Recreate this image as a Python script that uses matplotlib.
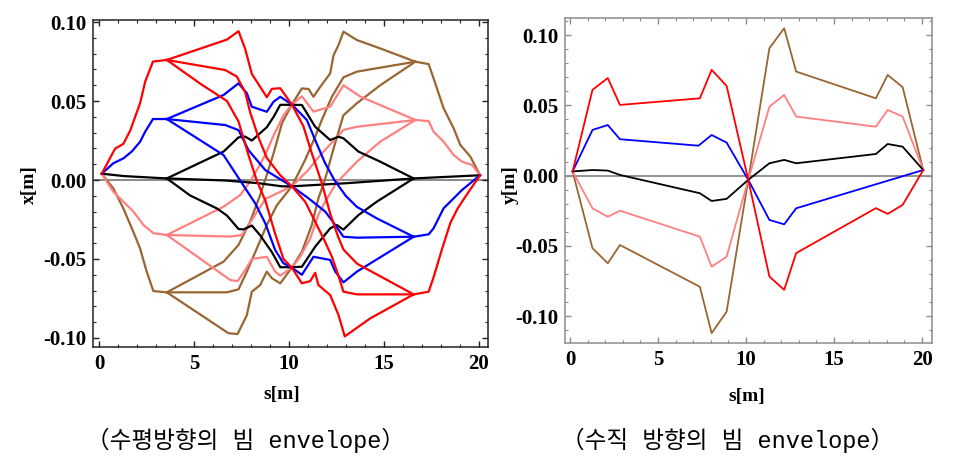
import numpy as np
import matplotlib
matplotlib.use("Agg")
import matplotlib.pyplot as plt
from matplotlib.ticker import MultipleLocator, FormatStrFormatter

# ---- horizontal envelope (left), points are (s [m], x [m]) ----
# each colour: common start, 3 branches up to s~10.16, 3 branches after, common end
red_in = [(0.14, 0.004), (0.84, 0.0198), (1.28, 0.0229), (1.64, 0.0313), (2.16, 0.0486),
          (2.43, 0.0623), (2.84, 0.075), (3.57, 0.076)]
red_left = [
    [(3.57, 0.076), (6.74, 0.0889), (7.35, 0.0942), (7.70, 0.083), (8.05, 0.0672), (8.84, 0.0524),
     (9.11, 0.0577), (9.55, 0.0581), (10.16, 0.0478)],
    [(3.57, 0.076), (6.65, 0.0696), (7.26, 0.0655), (7.70, 0.0556), (7.96, 0.043), (8.4, 0.027),
     (8.84, 0.014), (9.55, 0.003), (10.16, -0.004)],
    [(3.57, 0.076), (5.33, 0.061), (6.74, 0.050), (7.35, 0.037), (7.87, 0.016), (8.3, 0.0),
     (8.76, -0.013), (9.28, -0.034), (9.72, -0.050), (10.16, -0.0555)],
]
red_right = [
    [(10.16, 0.0478), (10.77, 0.034), (11.21, 0.017), (11.74, -0.002), (12.2, -0.022), (12.6, -0.036),
     (12.88, -0.044), (13.6, -0.053), (16.58, -0.0724)],
    [(10.16, -0.004), (10.86, -0.0137), (11.39, -0.0264), (11.83, -0.037), (12.27, -0.0485),
     (12.6, -0.060), (12.88, -0.0707), (13.59, -0.0724), (16.58, -0.0724)],
    [(10.16, -0.0555), (10.69, -0.0654), (11.13, -0.064), (11.39, -0.0587), (11.56, -0.0665),
     (12.18, -0.0728), (12.62, -0.0855), (12.95, -0.099), (14.29, -0.0876), (16.58, -0.0724)],
]
red_out = [(16.58, -0.0724), (17.37, -0.0707), (17.62, -0.062), (18.07, -0.044), (18.52, -0.027),
           (18.9, -0.018), (19.45, -0.008), (20.08, 0.003)]

blue_in = [(0.14, 0.004), (0.75, 0.0106), (1.28, 0.0137), (1.72, 0.018), (2.16, 0.0242),
           (2.43, 0.0306), (2.84, 0.0386), (3.57, 0.0386)]
blue_left = [
    [(3.57, 0.0386), (6.56, 0.0538), (7.35, 0.0612), (7.79, 0.0549), (8.05, 0.0464), (8.84, 0.0432),
     (9.2, 0.0496), (9.55, 0.0527), (10.16, 0.0478)],
    [(3.57, 0.0386), (6.65, 0.0348), (7.35, 0.0316), (7.87, 0.019), (8.76, 0.0063), (10.16, -0.004)],
    [(3.57, 0.0386), (6.56, 0.0158), (7.53, -0.002), (8.23, -0.0148), (8.76, -0.0274), (9.28, -0.0443),
     (9.72, -0.0527), (10.16, -0.0555)],
]
blue_right = [
    [(10.16, 0.0478), (10.95, 0.038), (11.39, 0.0253), (11.9, 0.011), (12.4, 0.0), (13.0, -0.010),
     (13.59, -0.017), (14.64, -0.0243), (16.58, -0.0359)],
    [(10.16, -0.004), (11.04, -0.0116), (11.92, -0.020), (12.3, -0.026), (12.88, -0.0359),
     (13.59, -0.0365), (16.58, -0.0359)],
    [(10.16, -0.0555), (10.69, -0.060), (11.3, -0.0486), (12.18, -0.0506), (12.45, -0.058),
     (12.88, -0.0648), (13.59, -0.058), (16.58, -0.0359)],
]
blue_out = [(16.58, -0.0359), (17.37, -0.0344), (17.63, -0.0306), (18.16, -0.0179), (18.69, -0.0116),
            (19.13, -0.0063), (20.08, 0.003)]

black_in = [(0.14, 0.004), (1.3, 0.0025), (3.57, 0.001)]
black_left = [
    [(3.57, 0.001), (6.56, 0.018), (7.35, 0.027), (7.70, 0.0275), (8.05, 0.025), (8.84, 0.0334),
     (9.2, 0.040), (9.55, 0.0476), (10.16, 0.0476)],
    [(3.57, 0.001), (6.65, -0.0003), (8.39, -0.002), (9.64, -0.004), (10.16, -0.004)],
    [(3.57, 0.001), (4.80, -0.0098), (6.21, -0.018), (6.74, -0.0225), (7.35, -0.031), (7.61, -0.0313),
     (8.05, -0.0288), (8.49, -0.035), (9.11, -0.0457), (9.55, -0.0552), (10.16, -0.0552)],
]
black_right = [
    [(10.16, 0.0476), (10.69, 0.0475), (11.39, 0.0337), (12.18, 0.0253), (12.62, 0.0274),
     (12.88, 0.0264), (13.67, 0.018), (14.82, 0.0116), (16.58, 0.001)],
    [(10.16, -0.004), (13.07, -0.002), (16.58, 0.001)],
    [(10.16, -0.0552), (10.69, -0.0549), (11.39, -0.0422), (12.18, -0.0306), (12.53, -0.0285),
     (12.88, -0.0314), (13.67, -0.0222), (14.64, -0.0137), (16.58, 0.001)],
]
black_out = [(16.58, 0.001), (20.08, 0.003)]

pink_in = [(0.14, 0.004), (0.75, -0.0074), (1.28, -0.0137), (1.81, -0.020), (2.34, -0.0285),
           (2.87, -0.0337), (3.57, -0.0348)]
pink_left = [
    [(3.57, -0.0348), (6.56, -0.0169), (7.44, -0.0095), (7.9, -0.002), (8.4, 0.008), (8.76, 0.016),
     (9.19, 0.028), (9.72, 0.041), (10.16, 0.0478)],
    [(3.57, -0.0348), (6.91, -0.0358), (7.53, -0.0348), (7.96, -0.027), (8.76, -0.012), (10.16, -0.004)],
    [(3.57, -0.0348), (6.91, -0.0633), (7.3, -0.064), (7.7, -0.057), (8.05, -0.050), (8.84, -0.0486),
     (9.28, -0.058), (9.55, -0.0605), (10.16, -0.0555)],
]
pink_right = [
    [(10.16, 0.0478), (10.69, 0.053), (11.3, 0.0433), (12.18, 0.0464), (12.88, 0.060), (13.77, 0.0528),
     (16.67, 0.038)],
    [(10.16, -0.004), (11.0, 0.006), (11.66, 0.0158), (12.3, 0.024), (12.88, 0.0317), (13.59, 0.0337),
     (16.67, 0.038)],
    [(10.16, -0.0555), (10.6, -0.0485), (11.13, -0.037), (11.56, -0.022), (11.92, -0.0137),
     (12.5, -0.002), (13.59, 0.0116), (14.82, 0.0243), (16.67, 0.038)],
]
pink_out = [(16.67, 0.038), (17.37, 0.0373), (17.63, 0.0306), (18.16, 0.0243), (18.69, 0.0158),
            (19.13, 0.0116), (19.66, 0.0095), (20.08, 0.003)]

brown_in = [(0.14, 0.004), (0.75, -0.0053), (1.28, -0.018), (1.81, -0.033), (2.16, -0.0433),
            (2.51, -0.058), (2.86, -0.0703), (3.57, -0.0711)]
brown_left = [
    [(3.57, -0.0711), (6.56, -0.0517), (7.35, -0.0411), (7.96, -0.0264), (8.49, -0.0095),
     (8.84, 0.0032), (9.2, 0.017), (9.64, 0.036), (10.16, 0.0478)],
    [(3.57, -0.0711), (6.74, -0.0711), (7.35, -0.0692), (7.79, -0.058), (8.32, -0.0432),
     (8.84, -0.0285), (9.37, -0.016), (10.16, -0.004)],
    [(3.57, -0.0711), (6.82, -0.097), (7.3, -0.0975), (7.79, -0.0855), (8.05, -0.0707), (8.49, -0.0665),
     (8.84, -0.058), (9.11, -0.0622), (9.55, -0.0654), (10.16, -0.0555)],
]
brown_right = [
    [(10.16, 0.0478), (10.69, 0.058), (11.04, 0.0576), (11.3, 0.0527), (11.66, 0.059), (12.18, 0.0675),
     (12.36, 0.079), (12.62, 0.0854), (12.88, 0.0939), (13.59, 0.0886), (14.82, 0.0833), (16.67, 0.0749)],
    [(10.16, -0.004), (10.86, 0.0127), (11.39, 0.0274), (11.74, 0.038), (12.27, 0.0527), (12.88, 0.065),
     (13.59, 0.0686), (16.67, 0.0749)],
    [(10.16, -0.0555), (10.69, -0.0454), (11.21, -0.0285), (11.56, -0.0116), (11.9, 0.0), (12.36, 0.020),
     (12.88, 0.041), (13.59, 0.0486), (14.82, 0.060), (16.67, 0.0749)],
]
brown_out = [(16.67, 0.0749), (17.37, 0.0734), (17.63, 0.0644), (18.16, 0.0454), (18.69, 0.0327),
             (19.04, 0.0222), (19.57, 0.0148), (20.08, 0.003)]

# ---- vertical envelope (right), one line per colour ----
v_s = [0.15, 1.28, 2.15, 2.84, 7.38, 8.05, 8.9, 10.13, 11.33, 12.17, 12.85, 17.38, 18.05, 18.9, 20.07]
v_red = [0.003, 0.061, 0.0694, 0.0503, 0.055, 0.0752, 0.0638, -0.003, -0.0717, -0.0812, -0.0551,
         -0.0231, -0.0272, -0.0208, 0.004]
v_black = [0.003, 0.004, 0.0036, 0.0005, -0.0125, -0.018, -0.0165, -0.003, 0.0088, 0.0112, 0.0088,
           0.0154, 0.0225, 0.0206, 0.004]
v_pink = [0.003, -0.0232, -0.0292, -0.0249, -0.0434, -0.0647, -0.0576, -0.003, 0.049, 0.0574, 0.042,
          0.0348, 0.0467, 0.042, 0.004]
v_brown = [0.003, -0.0516, -0.0623, -0.0493, -0.079, -0.112, -0.0967, -0.003, 0.0906, 0.1048, 0.074,
           0.055, 0.0716, 0.0629, 0.004]
v_s_blue = [0.15, 1.28, 2.15, 2.84, 7.3, 8.05, 8.9, 10.13, 11.33, 12.17, 12.85, 20.07]
v_blue = [0.003, 0.0325, 0.036, 0.0259, 0.0213, 0.0289, 0.0235, -0.003, -0.0315, -0.0346, -0.0232, 0.004]

RED = "#ff0000"
BLUE = "#0000ff"
BLACK = "#000000"
PINK = "#ff8080"
BROWN = "#996633"

serif = "Liberation Serif"
cap_font = ["Liberation Mono", "Noto Sans CJK KR", "DejaVu Sans"]

fig = plt.figure(figsize=(9.58, 4.66), dpi=100)
ax1 = fig.add_axes([0.0971, 0.2554, 0.4123, 0.7017])
ax2 = fig.add_axes([0.5898, 0.2639, 0.3831, 0.6975])


def draw(ax, pts, color, lw):
    a = np.array(pts)
    ax.plot(a[:, 0], a[:, 1], color=color, lw=lw, solid_joinstyle="round")


ax1.axhline(0, color="#808080", lw=1.3, zorder=1)
groups = [(brown_in, brown_left, brown_right, brown_out, BROWN),
          (pink_in, pink_left, pink_right, pink_out, PINK),
          (black_in, black_left, black_right, black_out, BLACK),
          (blue_in, blue_left, blue_right, blue_out, BLUE),
          (red_in, red_left, red_right, red_out, RED)]
for g_in, g_left, g_right, g_out, col in groups:
    draw(ax1, g_in, col, 1.6)
    for br in g_left + g_right:
        draw(ax1, br, col, 1.6)
    draw(ax1, g_out, col, 1.6)

ax2.axhline(0, color="#808080", lw=1.2, zorder=1)
ax2.plot(v_s, v_brown, color=BROWN, lw=1.3)
ax2.plot(v_s, v_pink, color=PINK, lw=1.3)
ax2.plot(v_s, v_black, color=BLACK, lw=1.3)
ax2.plot(v_s_blue, v_blue, color=BLUE, lw=1.3)
ax2.plot(v_s, v_red, color=RED, lw=1.3)

ax1.set_xlim(-0.32, 20.5)
ax1.set_ylim(-0.1057, 0.1013)
ax2.set_xlim(-0.28, 20.57)
ax2.set_ylim(-0.119, 0.1121)

for ax, fc in [(ax1, "#222222"), (ax2, "#8c8c8c")]:
    ax.xaxis.set_major_locator(MultipleLocator(5))
    ax.xaxis.set_minor_locator(MultipleLocator(1))
    ax.yaxis.set_major_locator(MultipleLocator(0.05))
    ax.yaxis.set_minor_locator(MultipleLocator(0.01))
    ax.yaxis.set_major_formatter(FormatStrFormatter("%.2f"))
    ax.tick_params(which="both", direction="in", top=True, right=True, color=fc)
    ax.tick_params(which="major", length=4.5, width=1.0, pad=5)
    ax.tick_params(which="minor", length=2.5, width=0.8)
    for sp in ax.spines.values():
        sp.set_color(fc)
        sp.set_linewidth(1.1)
    for lab in ax.get_xticklabels() + ax.get_yticklabels():
        lab.set_fontfamily(serif)
        lab.set_fontweight("bold")
        lab.set_fontsize(15)

fig.text(29 / 958, 1 - 185 / 466, "x[m]", rotation=90, ha="center", va="center",
         family=serif, fontweight="bold", fontsize=14)
fig.text(282 / 958, 1 - 394 / 466, "s[m]", ha="center", va="center",
         family=serif, fontweight="bold", fontsize=14)
fig.text(510 / 958, 1 - 185 / 466, "y[m]", rotation=90, ha="center", va="center",
         family=serif, fontweight="bold", fontsize=14)
fig.text(747 / 958, 1 - 396 / 466, "s[m]", ha="center", va="center",
         family=serif, fontweight="bold", fontsize=14)

fig.text(245 / 958, 1 - 440 / 466, "（수평방향의 빔 envelope）", ha="center", va="center",
         family=cap_font, fontsize=17)
fig.text(728 / 958, 1 - 440 / 466, "（수직 방향의 빔 envelope）", ha="center", va="center",
         family=cap_font, fontsize=17)

fig.savefig("out.png", dpi=100)
